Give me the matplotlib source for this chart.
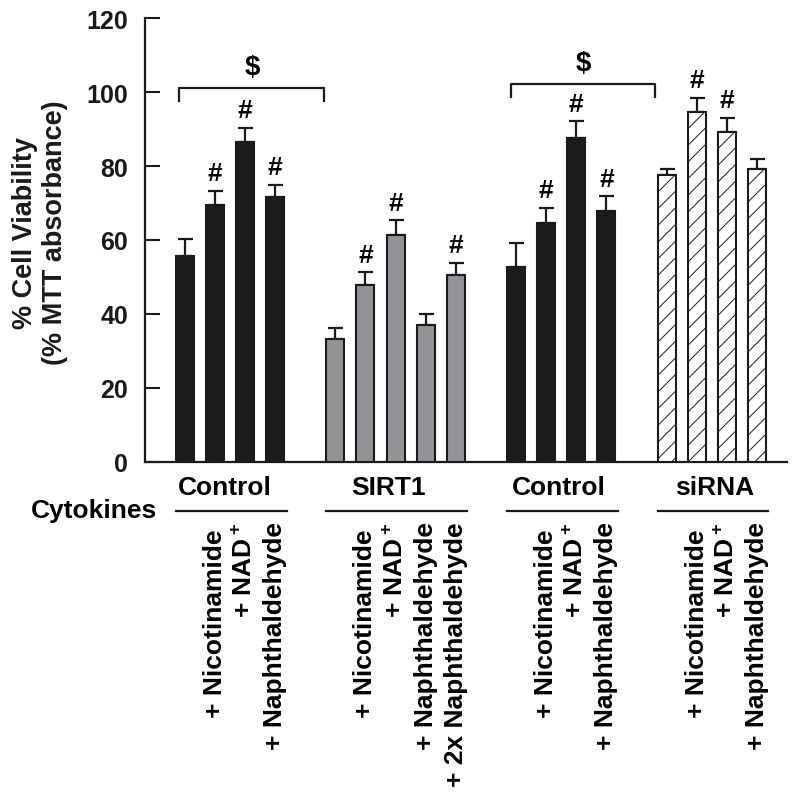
import matplotlib
matplotlib.use("Agg")
import matplotlib.pyplot as plt
import numpy as np

plt.rcParams['font.family'] = ['Liberation Sans', 'DejaVu Sans']
plt.rcParams['font.weight'] = 'bold'
plt.rcParams['mathtext.fontset'] = 'custom'
plt.rcParams['mathtext.rm'] = 'Liberation Sans:bold'
plt.rcParams['mathtext.bf'] = 'Liberation Sans:bold'
plt.rcParams['mathtext.it'] = 'Liberation Sans:bold'
plt.rcParams['hatch.linewidth'] = 0.7
plt.rcParams['hatch.color'] = '#555555'

# ---- data ----
group_names = ["Control", "SIRT1", "Control", "siRNA"]
treatments_g1 = ["Cytokines", "+ Nicotinamide", "+ NAD$^+$", "+ Naphthaldehyde"]
treatments_g2 = ["Cytokines", "+ Nicotinamide", "+ NAD$^+$", "+ Naphthaldehyde", "+ 2x Naphthaldehyde"]
treatments_g3 = ["Cytokines", "+ Nicotinamide", "+ NAD$^+$", "+ Naphthaldehyde"]
treatments_g4 = ["Cytokines", "+ Nicotinamide", "+ NAD$^+$", "+ Naphthaldehyde"]

values_g1 = [55.8, 69.6, 86.6, 71.6]
values_g2 = [33.3, 47.9, 61.4, 37.0, 50.6]
values_g3 = [52.7, 64.7, 87.5, 67.8]
values_g4 = [77.7, 94.7, 89.3, 79.1]

errors_g1 = [4.6, 3.7, 3.8, 3.4]
errors_g2 = [2.9, 3.4, 3.9, 3.0, 3.2]
errors_g3 = [6.5, 4.0, 4.7, 4.0]
errors_g4 = [1.4, 3.8, 3.8, 2.9]

sig_g1 = [False, True, True, True]
sig_g2 = [False, True, True, False, True]
sig_g3 = [False, True, True, True]
sig_g4 = [False, True, True, False]

yticks = [0, 20, 40, 60, 80, 100, 120]
ylabel = "% Cell Viability\n(% MTT absorbance)"

# ---- styling ----
groups = [
    (values_g1, errors_g1, sig_g1, treatments_g1, dict(facecolor='#1c1c1c', hatch=None)),
    (values_g2, errors_g2, sig_g2, treatments_g2, dict(facecolor='#929396', hatch=None)),
    (values_g3, errors_g3, sig_g3, treatments_g3, dict(facecolor='#1c1c1c', hatch=None)),
    (values_g4, errors_g4, sig_g4, treatments_g4, dict(facecolor='white', hatch='//')),
]

fig = plt.figure(figsize=(8.0, 8.04), dpi=100)
ax = fig.add_axes([0.18125, 0.4245, 0.8025, 0.5515])

start = 0
group_x = []
for vals, errs, sig, treats, style in groups:
    x = np.arange(start, start + len(vals))
    group_x.append(x)
    ax.bar(x, vals, width=0.6, color=style['facecolor'], edgecolor='#1a1a1a',
           linewidth=1.5, hatch=style['hatch'], zorder=3)
    ax.errorbar(x, vals, yerr=[np.zeros(len(errs)), errs], fmt='none',
                ecolor='#1a1a1a', elinewidth=1.6, capsize=5.4, capthick=1.6, zorder=2)
    for xi, v, e, s in zip(x, vals, errs, sig):
        if s:
            ax.annotate('#', xy=(xi, v + e), xytext=(0, 7.5), textcoords='offset points',
                        ha='center', va='baseline', fontsize=19, fontweight='bold')
    start += len(vals) + 1

ax.set_xlim(-1.32, 20.0)
ax.set_ylim(0, 120)
ax.set_yticks(yticks)
ax.set_yticklabels([str(t) for t in yticks], fontsize=18, fontweight='bold')
ax.tick_params(axis='y', direction='in', length=11, width=1.5, pad=12, colors='#1a1a1a')
ax.set_xticks([])
for side in ['top', 'right']:
    ax.spines[side].set_visible(False)
for side in ['left', 'bottom']:
    ax.spines[side].set_linewidth(1.6)
    ax.spines[side].set_color('#1a1a1a')

# significance brackets
brackets = [(-0.19, 4.62, 101.2, 97.6, 106.9, 2.25), (10.83, 15.62, 102.2, 98.6, 107.8, 13.24)]
for x0, x1, ytop, yend, ys, xs in brackets:
    ax.plot([x0, x0, x1, x1], [yend, ytop, ytop, yend], color='#1a1a1a', lw=1.6,
            clip_on=False, zorder=4)
    ax.text(xs, ys, '$', ha='center', va='center', fontsize=20, fontweight='bold')

fig.text(40 / 800, 1 - 233 / 804, ylabel, rotation=90, ha='center', va='center',
         fontsize=19.5, fontweight='bold', linespacing=1.15, color='#1a1a1a')

# group labels and treatment labels
label_offsets = [-0.18, -0.25, -0.07, 0.1]
for (vals, errs, sig, treats, style), x, name, off in zip(groups, group_x, group_names, label_offsets):
    cx = (x[0] + x[-1]) / 2 + off
    ax.text(cx, -8.8, name, ha='center', va='baseline', fontsize=19, fontweight='bold',
            clip_on=False)
    ax.plot([x[0] - 0.3, x[-1] + 0.38], [-13.3, -13.3], color='#1a1a1a', lw=1.6,
            clip_on=False)
    for xi, t in zip(x[1:], treats[1:]):
        ytop = -18.2 if 'Nicotinamide' in t else -16.1
        ax.text(xi, ytop, t, rotation=90, ha='center', va='top', fontsize=19,
                fontweight='bold', clip_on=False)

ax.text(-0.93, -15.0, treatments_g1[0], ha='right', va='baseline', fontsize=19,
        fontweight='bold', clip_on=False)

fig.savefig('out.png', dpi=100)
